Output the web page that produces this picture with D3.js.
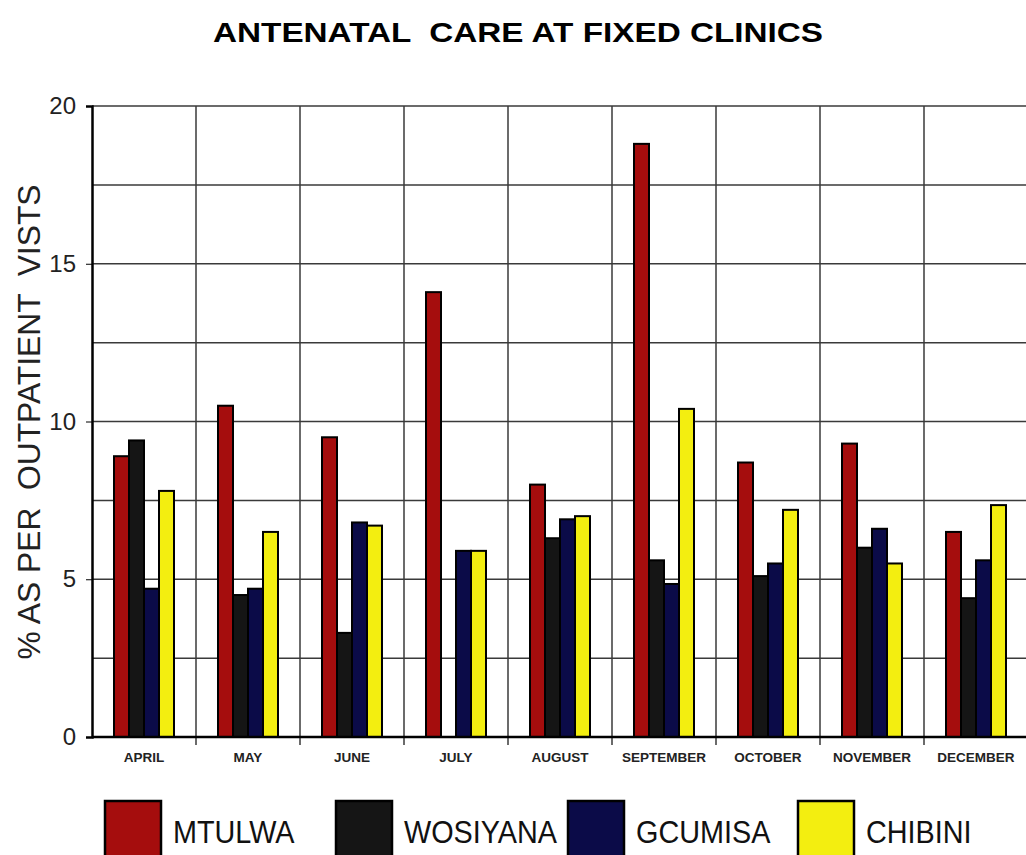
<!DOCTYPE html>
<html>
<head>
    <title>Antenatal care</title>
    <script src="https://cdn.jsdelivr.net/npm/d3@7"></script>
    <meta charset="utf-8" />
    <style>
        body { margin: 0; background: #fff; }
        svg { display: block; }
    </style>
</head>
<body>
    <script>
        var months = ["APRIL", "MAY", "JUNE", "JULY", "AUGUST", "SEPTEMBER", "OCTOBER", "NOVEMBER", "DECEMBER"];
        var clinics = ["MTULWA", "WOSIYANA", "GCUMISA", "CHIBINI"];
        var mtulwa   = [8.9, 10.5, 9.5, 14.1, 8.0, 18.8, 8.7, 9.3, 6.5];
        var wosiyana = [9.4, 4.5, 3.3, 0, 6.3, 5.6, 5.1, 6.0, 4.4];
        var gcumisa  = [4.7, 4.7, 6.8, 5.9, 6.9, 4.85, 5.5, 6.6, 5.6];
        var chibini  = [7.8, 6.5, 6.7, 5.9, 7.0, 10.4, 7.2, 5.5, 7.35];
        var yTicks = [0, 5, 10, 15, 20];
        var colors = ["#a50d0d", "#151515", "#0b0b48", "#f3ee10"];

        var series = [mtulwa, wosiyana, gcumisa, chibini];

        var width = 1026;
        var height = 855;
        var mLeft = 92, mTop = 106;
        var plotW = 936, plotH = 631;

        var svg = d3.select("body")
            .append("svg")
            .attr("width", width)
            .attr("height", height)
            .style("font-family", "Arial, 'Liberation Sans', sans-serif");

        var x = d3.scaleBand().domain(months).range([mLeft, mLeft + plotW]);
        var xs = d3.scaleBand().domain(clinics).range([0, 60]);
        var y = d3.scaleLinear().domain([0, 20]).range([mTop + plotH, mTop]);

        // title
        svg.append("text")
            .attr("x", 518)
            .attr("y", 42)
            .attr("text-anchor", "middle")
            .style("font-weight", "bold")
            .style("font-size", "28px")
            .attr("textLength", 610)
            .attr("lengthAdjust", "spacingAndGlyphs")
            .style("white-space", "pre")
            .text("ANTENATAL  CARE AT FIXED CLINICS");

        // grid
        var grid = svg.append("g");
        grid.selectAll(".h")
            .data(d3.range(0, 20.01, 2.5)).enter()
            .append("line")
            .attr("x1", mLeft).attr("x2", mLeft + plotW)
            .attr("y1", function (d) { return y(d); })
            .attr("y2", function (d) { return y(d); })
            .attr("stroke", "#3a3a3a")
            .attr("stroke-width", 1.5);
        grid.selectAll(".v")
            .data(months.slice(1)).enter()
            .append("line")
            .attr("x1", function (d) { return x(d); })
            .attr("x2", function (d) { return x(d); })
            .attr("y1", mTop).attr("y2", mTop + plotH + 8)
            .attr("stroke", "#3a3a3a")
            .attr("stroke-width", 1.5);

        // y axis
        var yAxis = svg.append("g")
            .attr("transform", "translate(" + mLeft + ",0)")
            .call(d3.axisLeft(y).tickValues(yTicks).tickSize(6).tickPadding(10));
        yAxis.select(".domain").attr("stroke", "#000").attr("stroke-width", 2.5);
        yAxis.selectAll("text").style("font-size", "24px").attr("fill", "#222");

        svg.append("text")
            .attr("transform", "translate(40,422) rotate(-90)")
            .attr("text-anchor", "middle")
            .style("font-size", "31px")
            .style("white-space", "pre")
            .attr("textLength", 475)
            .attr("lengthAdjust", "spacingAndGlyphs")
            .attr("fill", "#222")
            .text("% AS PER  OUTPATIENT  VISTS");

        // bars
        var groups = svg.selectAll(".month")
            .data(months).enter()
            .append("g")
            .attr("transform", function (d) { return "translate(" + (x(d) + (x.bandwidth() - 60) / 2) + ",0)"; });

        groups.selectAll("rect")
            .data(function (m, i) {
                return clinics.map(function (c, j) { return { clinic: c, value: series[j][i], color: colors[j] }; });
            }).enter()
            .filter(function (d) { return d.value > 0; })
            .append("rect")
            .attr("x", function (d) { return xs(d.clinic); })
            .attr("width", xs.bandwidth())
            .attr("y", function (d) { return y(d.value); })
            .attr("height", function (d) { return y(0) - y(d.value); })
            .attr("fill", function (d) { return d.color; })
            .attr("stroke", "#000")
            .attr("stroke-width", 2);

        // baseline
        svg.append("line")
            .attr("x1", mLeft).attr("x2", mLeft + plotW)
            .attr("y1", y(0)).attr("y2", y(0))
            .attr("stroke", "#000").attr("stroke-width", 2.5);

        // month labels
        svg.selectAll(".mlabel")
            .data(months).enter()
            .append("text")
            .attr("x", function (d) { return x(d) + x.bandwidth() / 2; })
            .attr("y", y(0) + 25)
            .attr("text-anchor", "middle")
            .style("font-size", "13.5px")
            .style("font-weight", "bold")
            .attr("fill", "#222")
            .text(function (d) { return d; });

        // legend
        var legendX = [105, 336, 568, 798];
        var legend = svg.selectAll(".legend")
            .data(clinics).enter()
            .append("g")
            .attr("transform", function (d, i) { return "translate(" + legendX[i] + ",801)"; });

        legend.append("rect")
            .attr("width", 56)
            .attr("height", 56)
            .attr("fill", function (d, i) { return colors[i]; })
            .attr("stroke", "#000")
            .attr("stroke-width", 2.5);

        legend.append("text")
            .attr("transform", "translate(68,42) scale(0.9,1)")
            .style("font-size", "32px")
            .attr("fill", "#111")
            .text(function (d) { return d; });
    </script>
</body>
</html>
